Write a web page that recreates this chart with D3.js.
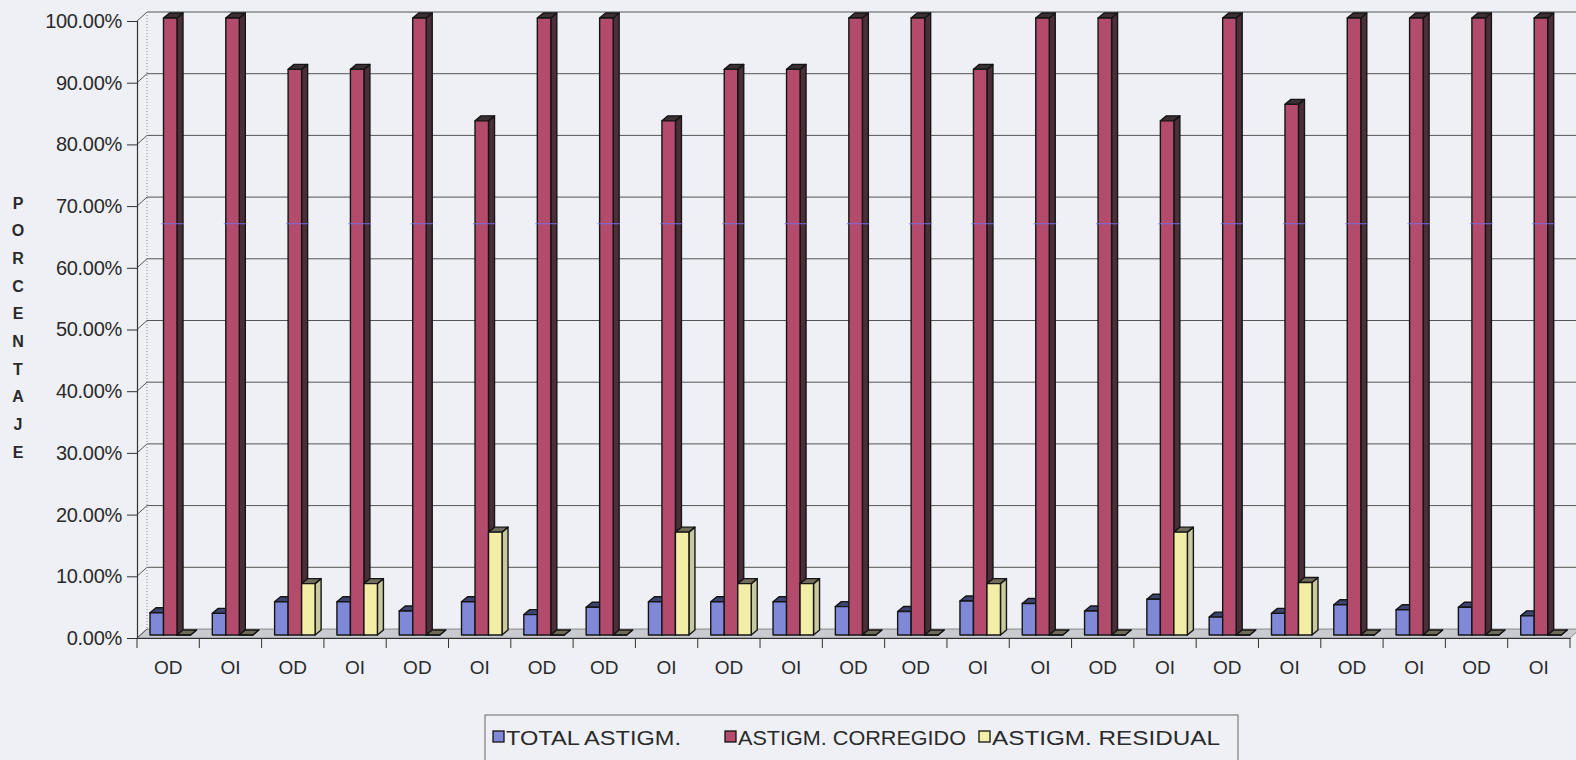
<!DOCTYPE html>
<html>
<head>
<meta charset="utf-8">
<script src="https://cdn.jsdelivr.net/npm/d3@7"></script>
<style>
  html, body { margin: 0; padding: 0; background: #eef0f6; }
  svg text { font-family: "Liberation Sans", Arial, sans-serif; fill: #2a2a2a; }
</style>
</head>
<body>
<div id="chart"></div>
<script>
// categories (eye of each case) and the three series, in percent
var categories = ["OD","OI","OD","OI","OD","OI","OD","OD","OI","OD","OI","OD",
                  "OD","OI","OI","OD","OI","OD","OI","OD","OI","OD","OI"];
var totalAstigm = [3.6,3.5,5.4,5.4,3.9,5.4,3.3,4.5,5.4,5.4,5.4,4.6,
                   3.8,5.5,5.1,3.9,5.8,2.9,3.5,4.9,4.1,4.5,3.1];
var corregido   = [100,100,91.67,91.67,100,83.33,100,100,83.33,91.67,91.67,100,
                   100,91.67,100,100,83.33,100,86,100,100,100,100];
var residual    = [0,0,8.33,8.33,0,16.67,0,0,16.67,8.33,8.33,0,
                   0,8.33,0,0,16.67,0,8.5,0,0,0,0];
var seriesNames = ["TOTAL ASTIGM.", "ASTIGM. CORREGIDO", "ASTIGM. RESIDUAL"];
var yTicks = [0,10,20,30,40,50,60,70,80,90,100];

(function () {
var width = 1576, height = 760;
var plotLeft = 137, plotRight = 1570, plotBottom = 638, plotTop = 21;
var wall = [10, -9];       // depth offset of the back wall
var depth = [6, -5];       // depth of each column
var barW = 13.5, barOff = 13, barLift = -3;

// face colours: front, side, top
var colors = [
  { front: "#8088d8", side: "#4a5090", top: "#3e4470" },
  { front: "#b24b6c", side: "#4a2f38", top: "#3a3034" },
  { front: "#f2eea6", side: "#c9c9a0", top: "#6f6d5a" }
];

var svg = d3.select("#chart").append("svg")
    .attr("width", width)
    .attr("height", height);

var x0 = d3.scaleBand().domain(d3.range(categories.length)).range([plotLeft, plotRight]);
var y = d3.scaleLinear().domain([0, 100]).range([plotBottom, plotTop]);

// floor
svg.append("polygon")
    .attr("points", [[plotLeft, plotBottom], [plotRight, plotBottom], [plotRight + wall[0], plotBottom + wall[1]], [plotLeft + wall[0], plotBottom + wall[1]]].join(" "))
    .attr("fill", "#c9cbd0")
    .attr("stroke", "#777")
    .attr("stroke-width", 0.8);

// gridlines on back wall + connectors on side wall
var grid = svg.append("g");
yTicks.forEach(function (v) {
    if (v > 0) {
        grid.append("line")
            .attr("x1", plotLeft + wall[0]).attr("x2", width)
            .attr("y1", y(v) + wall[1]).attr("y2", y(v) + wall[1])
            .attr("stroke", "#555").attr("stroke-width", 1);
    }
    grid.append("line")
        .attr("x1", plotLeft).attr("x2", plotLeft + wall[0])
        .attr("y1", y(v)).attr("y2", y(v) + wall[1])
        .attr("stroke", "#555").attr("stroke-width", 1);
});
// back corner of side wall (dotted)
svg.append("line")
    .attr("x1", plotLeft + wall[0]).attr("x2", plotLeft + wall[0])
    .attr("y1", y(100) + wall[1]).attr("y2", plotBottom + wall[1])
    .attr("stroke", "#888").attr("stroke-dasharray", "1,2");

// y axis
var yAxis = svg.append("g")
    .attr("transform", "translate(" + plotLeft + ",0)")
    .call(d3.axisLeft(y).tickValues(yTicks).tickSize(10).tickPadding(5)
        .tickFormat(function (d) { return d3.format(".2f")(d) + "%"; }));
yAxis.select(".domain").attr("stroke", "#333").attr("stroke-width", 1.2);
yAxis.selectAll(".tick line").attr("stroke", "#333");
yAxis.selectAll("text").attr("font-size", 20).attr("fill", "#2a2a2a")
    .attr("letter-spacing", -0.3)
    .attr("font-family", "Liberation Sans, Arial, sans-serif");

// x axis: labels centred, ticks on band boundaries
var xAxis = svg.append("g")
    .attr("transform", "translate(0," + plotBottom + ")")
    .call(d3.axisBottom(x0).tickSize(0).tickPadding(23)
        .tickFormat(function (i) { return categories[i]; }));
xAxis.select(".domain").attr("stroke", "#333").attr("stroke-width", 1.2);
xAxis.selectAll("text").attr("font-size", 19).attr("fill", "#2a2a2a")
    .attr("font-family", "Liberation Sans, Arial, sans-serif");
svg.append("g").selectAll("line")
    .data(d3.range(categories.length + 1))
    .enter().append("line")
    .attr("x1", function (i) { return plotLeft + i * x0.step(); })
    .attr("x2", function (i) { return plotLeft + i * x0.step(); })
    .attr("y1", plotBottom).attr("y2", plotBottom + 10)
    .attr("stroke", "#333");

// bars
var seriesValues = [totalAstigm, corregido, residual];
var bars = [];
categories.forEach(function (c, i) {
    seriesValues.forEach(function (vals, s) {
        bars.push({ i: i, s: s, v: vals[i] });
    });
});

function barPaths(d) {
    var x = x0(d.i) + barOff + d.s * barW;
    var yb = y(0) + barLift, yt = y(d.v) + barLift;
    var dx = depth[0], dy = depth[1];
    return {
        front: [[x, yt], [x + barW, yt], [x + barW, yb], [x, yb]],
        side: [[x + barW, yt], [x + barW + dx, yt + dy], [x + barW + dx, yb + dy], [x + barW, yb]],
        top: [[x, yt], [x + barW, yt], [x + barW + dx, yt + dy], [x + dx, yt + dy]]
    };
}

var bg = svg.append("g").selectAll("g")
    .data(bars)
    .enter().append("g");

["side", "top", "front"].forEach(function (face) {
    bg.append("polygon")
        .attr("points", function (d) { return barPaths(d)[face].join(" "); })
        .attr("fill", function (d) { return colors[d.s][face]; })
        .attr("stroke", "#151515")
        .attr("stroke-width", 1.4)
        .attr("stroke-linejoin", "round");
});

// faint scanner line crossing the red columns
bg.filter(function (d) { return d.s == 1 && d.v > 67; })
    .append("line")
    .attr("x1", function (d) { return x0(d.i) + barOff + barW - 2; })
    .attr("x2", function (d) { return x0(d.i) + barOff + 2 * barW + depth[0] + 1; })
    .attr("y1", y(66.67) + barLift).attr("y2", y(66.67) + barLift)
    .attr("stroke", "#7a6cf0").attr("stroke-width", 1.3).attr("opacity", 0.7);

// y axis title, stacked letters
svg.append("g").selectAll("text")
    .data("PORCENTAJE".split(""))
    .enter().append("text")
    .attr("x", 18)
    .attr("y", function (d, k) { return 203 + k * 27.7; })
    .attr("text-anchor", "middle")
    .attr("dominant-baseline", "central")
    .attr("font-size", 16)
    .attr("font-weight", "bold")
    .text(function (d) { return d; });

// legend
var legend = svg.append("g");
legend.append("rect")
    .attr("x", 485).attr("y", 715).attr("width", 753).attr("height", 70)
    .attr("fill", "none").attr("stroke", "#666");
var legendX = [493, 725, 979];
var legendLen = [175, 228, 228];
seriesNames.forEach(function (name, s) {
    legend.append("rect")
        .attr("x", legendX[s]).attr("y", 731).attr("width", 11).attr("height", 11)
        .attr("fill", colors[s].front).attr("stroke", "#111").attr("stroke-width", 1.3);
    legend.append("text")
        .attr("x", legendX[s] + 13).attr("y", 745)
        .attr("font-size", 21)
        .attr("textLength", legendLen[s])
        .attr("lengthAdjust", "spacingAndGlyphs")
        .text(name);
});
})();
</script>
</body>
</html>
